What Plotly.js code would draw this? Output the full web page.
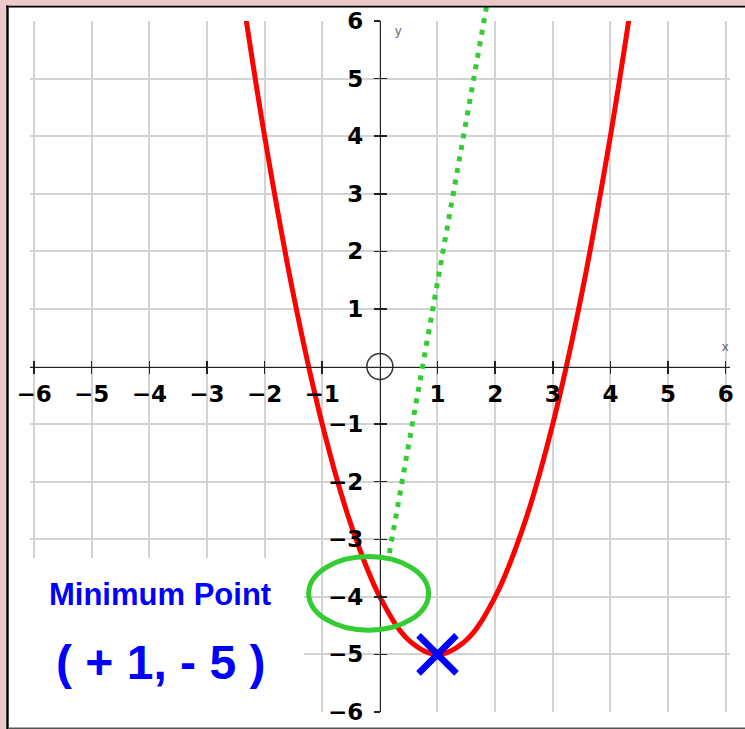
<!DOCTYPE html>
<html>
<head>
<meta charset="utf-8">
<script src="https://cdn.plot.ly/plotly-3.0.1.min.js"></script>
<style>
  html, body { margin: 0; padding: 0; background: #ecc8c8; }
  #chart { width: 745px; height: 729px; }
</style>
</head>
<body>
<div id="chart"></div>
<script>
// ---- data ----
const xTickVals = [-6, -5, -4, -3, -2, -1, 1, 2, 3, 4, 5, 6];
const xTickText = ['\u22126', '\u22125', '\u22124', '\u22123', '\u22122', '\u22121', '1', '2', '3', '4', '5', '6'];
const yTickVals = [-6, -5, -4, -3, -2, -1, 1, 2, 3, 4, 5, 6];
const yTickText = ['\u22126', '\u22125', '\u22124', '\u22123', '\u22122', '\u22121', '1', '2', '3', '4', '5', '6'];

const curveX = [-2.35, -2, -1.5, -1, -0.5, 0, 0.5, 1, 1.5, 2, 2.5, 3, 3.5, 4, 4.35];
const curveY = [6.22, 4, 1.25, -1, -2.75, -4, -4.75, -5, -4.75, -4, -2.75, -1, 1.25, 4, 6.22];

const dottedX = [0.165, 1.87];
const dottedY = [-3.24, 6.36];

const minPointX = [1];
const minPointY = [-5];

const originX = [0];
const originY = [0];

const ellipseX = [-1.235, 0.845];
const ellipseY = [-4.58, -3.30];

const labelTitle = 'Minimum Point';
const labelCoords = '( + 1, - 5 )';

// ---- layout geometry ----
const W = 745, H = 729;
const M = {l: 30, r: 15, t: 0, b: 17};
const plotW = W - M.l - M.r;   // 700
const plotH = H - M.t - M.b;   // 712
const xr = [-6.07, 6.075];
const yr = [-6, 6];
const yDom = [0, 691 / 712];
const xZeroPos = (0 - xr[0]) / (xr[1] - xr[0]);
const yZeroPos = yDom[0] + (0 - yr[0]) / (yr[1] - yr[0]) * (yDom[1] - yDom[0]);
const y4Top = yr[0] + (yr[1] - yr[0]) / (yDom[1] - yDom[0]);

const px2paperX = p => (p - M.l) / plotW;
const px2paperY = p => (H - M.b - p) / plotH;

const gridColor = '#d2d2d2';
const axisColor = '#222222';
const tickFont = {family: 'DejaVu Sans, sans-serif', size: 23, color: '#000', weight: 'bold'};
const textFamily = 'Liberation Sans, Arial, sans-serif';
const green = '#33cc33';
const blue = '#0000ff';

const traces = [
  {
    x: curveX, y: curveY, xaxis: 'x', yaxis: 'y',
    mode: 'lines', line: {color: '#ff0000', width: 5, shape: 'spline', smoothing: 1},
    hoverinfo: 'skip', showlegend: false
  },
  {
    x: dottedX, y: dottedY, xaxis: 'x4', yaxis: 'y4',
    mode: 'lines', line: {color: green, width: 5, dash: '5px,6.7px'},
    hoverinfo: 'skip', showlegend: false
  },
  {
    x: originX, y: originY, xaxis: 'x2', yaxis: 'y2',
    mode: 'markers',
    marker: {symbol: 'circle-open', size: 26, color: '#333', line: {width: 1.5, color: '#333'}},
    hoverinfo: 'skip', showlegend: false, cliponaxis: false
  },
  {
    x: minPointX, y: minPointY, xaxis: 'x3', yaxis: 'y3',
    mode: 'markers',
    marker: {symbol: 'x-thin', size: 38, color: blue, line: {width: 6.5, color: blue}},
    hoverinfo: 'skip', showlegend: false, cliponaxis: false
  }
];

const baseAx = {fixedrange: true, zeroline: false, showgrid: false, showline: false};

const layout = {
  width: W, height: H,
  margin: M,
  paper_bgcolor: '#ecc8c8',
  plot_bgcolor: 'rgba(0,0,0,0)',
  showlegend: false,
  xaxis: Object.assign({}, baseAx, {
    range: xr, domain: [0, 1], anchor: 'y',
    tickmode: 'linear', tick0: 0, dtick: 1,
    showgrid: true, gridcolor: gridColor, gridwidth: 2,
    showticklabels: false, ticks: ''
  }),
  yaxis: Object.assign({}, baseAx, {
    range: yr, domain: yDom, anchor: 'x',
    tickmode: 'linear', tick0: 0, dtick: 1,
    showgrid: true, gridcolor: gridColor, gridwidth: 2,
    showticklabels: false, ticks: ''
  }),
  xaxis2: Object.assign({}, baseAx, {
    overlaying: 'x', anchor: 'free', position: yZeroPos, side: 'bottom', range: xr,
    tickmode: 'array', tickvals: xTickVals, ticktext: xTickText,
    ticks: 'outside', ticklen: 6, tickwidth: 1.5, tickcolor: axisColor,
    showline: true, linecolor: axisColor, linewidth: 1.5,
    tickfont: tickFont, ticklabelstandoff: 0
  }),
  xaxis3: Object.assign({}, baseAx, {
    overlaying: 'x', anchor: 'free', position: yZeroPos, side: 'bottom', range: xr,
    tickmode: 'array', tickvals: xTickVals,
    ticks: 'inside', ticklen: 6, tickwidth: 1.5, tickcolor: axisColor,
    showticklabels: false
  }),
  yaxis2: Object.assign({}, baseAx, {
    overlaying: 'y', anchor: 'free', position: xZeroPos, side: 'left', range: yr,
    tickmode: 'array', tickvals: yTickVals, ticktext: yTickText,
    ticks: 'outside', ticklen: 6, tickwidth: 1.5, tickcolor: axisColor,
    showline: true, linecolor: axisColor, linewidth: 1.5,
    tickfont: tickFont, ticklabelstandoff: 6
  }),
  yaxis3: Object.assign({}, baseAx, {
    overlaying: 'y', anchor: 'free', position: xZeroPos, side: 'left', range: yr,
    tickmode: 'array', tickvals: yTickVals,
    ticks: 'inside', ticklen: 6, tickwidth: 1.5, tickcolor: axisColor,
    showticklabels: false
  }),
  xaxis4: Object.assign({}, baseAx, {range: xr, domain: [0, 1], anchor: 'y4', visible: false}),
  yaxis4: Object.assign({}, baseAx, {range: [yr[0], y4Top], domain: [0, 1], anchor: 'x4', visible: false}),
  shapes: [
    // white card
    {type: 'rect', xref: 'paper', yref: 'paper', layer: 'below',
     x0: px2paperX(8), x1: px2paperX(760), y0: px2paperY(729), y1: px2paperY(6.5),
     fillcolor: '#ffffff', line: {width: 0}},
    // blank patch behind the text
    {type: 'rect', xref: 'paper', yref: 'paper', layer: 'above',
     x0: px2paperX(24), x1: px2paperX(304), y0: px2paperY(727), y1: px2paperY(558),
     fillcolor: '#ffffff', line: {width: 0}},
    // frame lines
    {type: 'line', xref: 'paper', yref: 'paper', layer: 'above',
     x0: px2paperX(7.5), x1: px2paperX(7.5), y0: px2paperY(729), y1: px2paperY(5.5),
     line: {color: '#000', width: 2.4}},
    {type: 'line', xref: 'paper', yref: 'paper', layer: 'above',
     x0: px2paperX(6.3), x1: px2paperX(760), y0: px2paperY(6.7), y1: px2paperY(6.7),
     line: {color: '#000', width: 1.8}},
    {type: 'line', xref: 'paper', yref: 'paper', layer: 'above',
     x0: px2paperX(8), x1: px2paperX(760), y0: px2paperY(728.3), y1: px2paperY(728.3),
     line: {color: '#555', width: 1.5}},
    // green highlight ellipse
    {type: 'circle', xref: 'x', yref: 'y', layer: 'above',
     x0: ellipseX[0], x1: ellipseX[1], y0: ellipseY[0], y1: ellipseY[1],
     line: {color: green, width: 5}}
  ],
  annotations: [
    {xref: 'x', yref: 'y', x: 0.33, y: 5.84, text: 'y', showarrow: false,
     font: {family: textFamily, size: 13, color: '#6b6b6b'}},
    {xref: 'x', yref: 'y', x: 5.99, y: 0.34, text: 'x', showarrow: false,
     font: {family: textFamily, size: 13, color: '#555f70'}},
    {xref: 'paper', yref: 'paper', x: px2paperX(160), y: px2paperY(594), text: labelTitle,
     showarrow: false, xanchor: 'center', yanchor: 'middle',
     font: {family: textFamily, size: 31, color: blue, weight: 'bold'}},
    {xref: 'paper', yref: 'paper', x: px2paperX(160), y: px2paperY(662), text: labelCoords,
     showarrow: false, xanchor: 'center', yanchor: 'middle',
     font: {family: textFamily, size: 48, color: blue, weight: 'bold'}}
  ]
};

Plotly.newPlot('chart', traces, layout, {displayModeBar: false, staticPlot: true});
</script>
</body>
</html>
